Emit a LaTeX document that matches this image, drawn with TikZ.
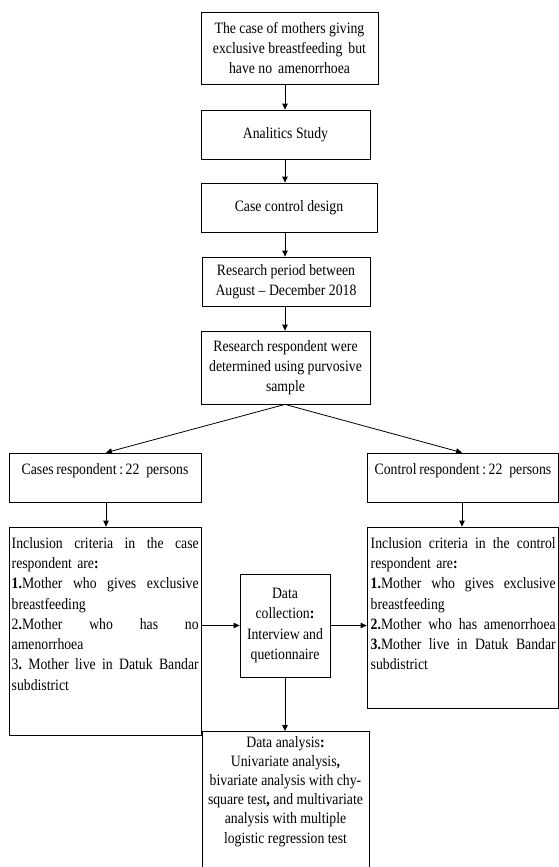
\documentclass[tikz,border=0pt]{standalone}
\usepackage{fontspec}
\setmainfont[FakeStretch=0.87]{Liberation Serif}
\usetikzlibrary{arrows.meta}
\newcommand\mytxt{\fontsize{15.8}{20.3}\selectfont}
\newcommand\jl[2]{\leavevmode\hbox to #1{#2}}
\begin{document}
\begin{tikzpicture}[x=1pt,y=-1pt,
  box/.style={draw, line width=0.8pt, inner sep=0pt, align=center, font=\mytxt},
  plain/.style={inner sep=0pt, font=\mytxt},
  arr/.style={-{Triangle[length=6pt,width=5.5pt]}, line width=0.8pt}]
\useasboundingbox (0,0) rectangle (559,867);
\clip (0,0) rectangle (559,867);
\coordinate (spine) at (285,0);
\coordinate (lx) at (106,0);
\coordinate (rx) at (462,0);
% top chain
\node[box, minimum width=177pt, minimum height=72pt] (b1) at (289.5,48)
  {The case of mothers giving\\exclusive breastfeeding\, but\\have no\, amenorrhoea};
\node[box, minimum width=169pt, minimum height=49pt] (b2) at (285.5,134.5) {Analitics Study};
\node[box, minimum width=176pt, minimum height=49pt] (b3) at (289,207.5) {Case control design};
\node[box, minimum width=168pt, minimum height=49pt] (b4) at (286,281.5)
  {Research period between\\August -- December 2018};
\node[box, minimum width=169pt, minimum height=73pt] (b5) at (285.5,367.5)
  {Research respondent were\\determined using purvosive\\sample};
% respondents
\node[box, minimum width=192pt, minimum height=49pt] (cs) at (105,477.5) {};
\node[plain, anchor=base] (cst) at (105,474) {Cases\,respondent\,:\,22\ \ persons};
\node[box, minimum width=191pt, minimum height=49pt] (ct) at (462.5,477.5) {};
\node[plain, anchor=base] (ctt) at (463,474) {Control\,respondent\,:\,22\ \ persons};
% inclusion boxes
\node[box, minimum width=192pt, minimum height=208pt] (il) at (105,631) {};
\node[plain, anchor=north west, text width=187pt, align=left] (ilt) at (11.5,537)
  {\jl{187pt}{Inclusion\hfill criteria\hfill in\hfill the\hfill case}\\
   respondent are\textbf{:}\\
   \jl{187pt}{\textbf{1.}Mother\hfill who\hfill gives\hfill exclusive}\\
   breastfeeding\\
   \jl{187pt}{2\textbf{.}Mother\hfill who\hfill has\hfill no}\\
   amenorrhoea\\
   \jl{187pt}{3\textbf{.}\hfill Mother\hfill live\hfill in\hfill Datuk\hfill Bandar}\\
   subdistrict};
\node[box, minimum width=191pt, minimum height=181pt] (ir) at (462.5,617.5) {};
\node[plain, anchor=north west, text width=185pt, align=left] (irt) at (370.5,537)
  {\jl{185pt}{Inclusion\hfill criteria\hfill in\hfill the\hfill control}\\
   respondent are\textbf{:}\\
   \jl{185pt}{\textbf{1.}Mother\hfill who\hfill gives\hfill exclusive}\\
   breastfeeding\\
   \jl{185pt}{\textbf{2.}Mother\hfill who\hfill has\hfill amenorrhoea}\\
   \jl{185pt}{\textbf{3.}Mother\hfill live\hfill in\hfill Datuk\hfill Bandar}\\
   subdistrict};
% data collection
\node[box, minimum width=90pt, minimum height=103pt] (dc) at (285,625.5)
  {Data\\collection\textbf{:}\\Interview and\\quetionnaire};
% data analysis
\node[box, anchor=north west, minimum width=167pt, minimum height=160pt] (da) at (202,731) {};
\node[plain, anchor=north, align=center, font=\fontsize{15.8}{19.2}\selectfont] (dat) at (285.5,736)
  {Data analysis\textbf{:}\\Univariate analysis\textbf{,}\\bivariate analysis with chy-\\square test\textbf{,} and multivariate\\analysis with multiple\\logistic regression test};
% connectors
\draw[arr] (b1.south -| spine) -- (b2.north -| spine);
\draw[arr] (b2.south -| spine) -- (b3.north -| spine);
\draw[arr] (b3.south -| spine) -- (b4.north -| spine);
\draw[arr] (b4.south -| spine) -- (b5.north -| spine);
\draw[arr] (b5.south -| spine) -- (cs.north -| lx);
\draw[arr] (b5.south -| spine) -- (ct.north -| rx);
\draw[arr] (cs.south -| lx) -- (il.north -| lx);
\draw[arr] (ct.south -| rx) -- (ir.north -| rx);
\draw[arr] (il.east |- dc.west) -- (dc.west);
\draw[arr] (dc.east) -- (ir.west |- dc.east);
\draw[arr] (dc.south -| spine) -- (da.north -| spine);
\end{tikzpicture}
\end{document}
